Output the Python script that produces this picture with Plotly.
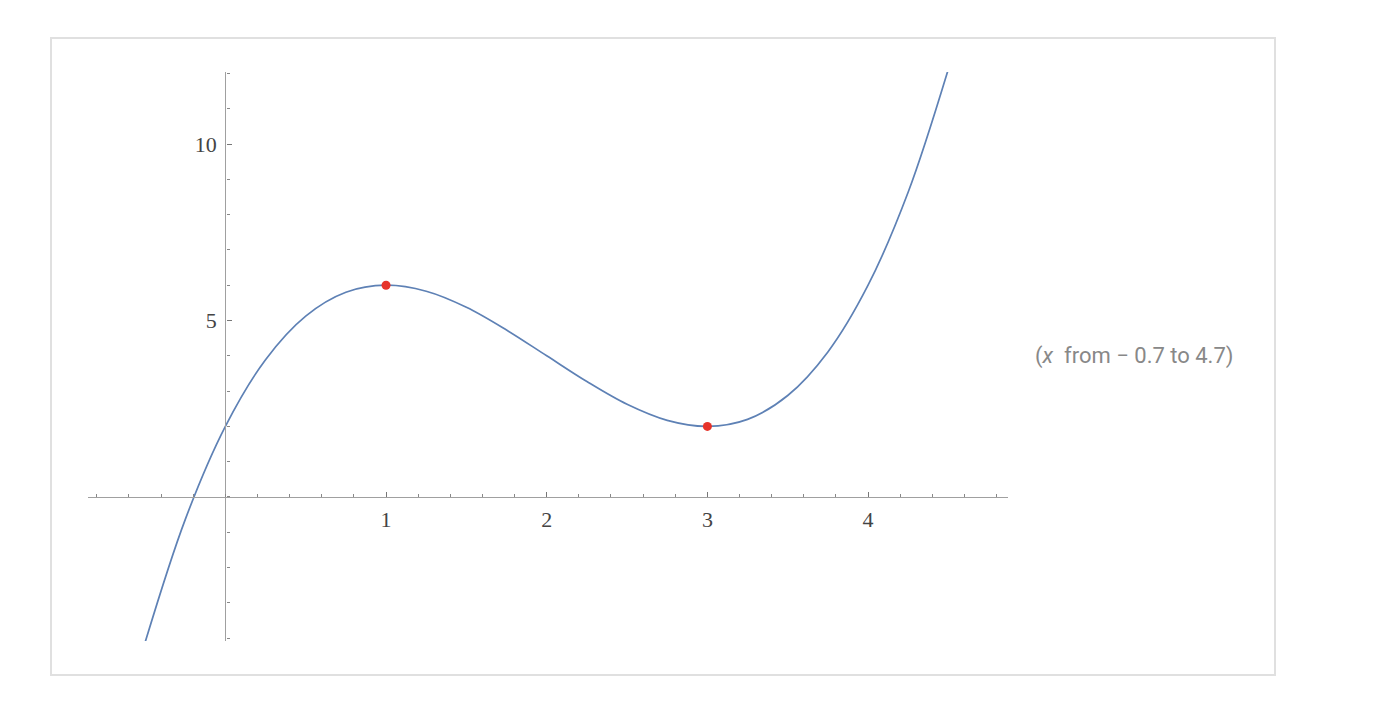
import plotly.graph_objects as go

# values
curve_x = [-0.5, -0.25, 0, 0.25, 0.5, 0.75, 1, 1.25, 1.5, 1.75, 2, 2.25, 2.5, 2.75,
           3, 3.25, 3.5, 3.75, 4, 4.25, 4.5]
curve_y = [-4.125, -0.64, 2, 3.89, 5.125, 5.80, 6, 5.83, 5.375, 4.73, 4, 3.27, 2.625, 2.17,
           2, 2.2, 2.875, 4.11, 6, 8.64, 12.125]
point_x = [1, 3]
point_y = [6, 2]
x_tick_vals = [1, 2, 3, 4]
x_tick_text = ["1", "2", "3", "4"]
y_tick_vals = [5, 10]
y_tick_text = ["5", "10"]
note = "(<i>x</i>  from \u2212 0.7 to 4.7)"

XMIN, XMAX = -0.855, 4.871
YMIN, YMAX = -4.08, 12.04

# page body has an 8px margin; plot area target: x 88..1008, y 72..641
L, T = 80, 64
W_PLOT, H_PLOT = 920, 569

fig = go.Figure()
fig.add_trace(go.Scatter(x=curve_x, y=curve_y, mode="lines",
                         line=dict(color="#5e81b5", width=1.7, shape="spline", smoothing=1.0),
                         hoverinfo="skip", showlegend=False))
fig.add_trace(go.Scatter(x=point_x, y=point_y, mode="markers",
                         marker=dict(color="#e6332a", size=9),
                         hoverinfo="skip", showlegend=False))

axis_font = dict(family="Liberation Serif, Times New Roman, serif", size=22, color="#444444")

fig.update_layout(
    width=1396, height=718,
    margin=dict(l=L, r=1396 - L - W_PLOT, t=T, b=718 - T - H_PLOT),
    paper_bgcolor="white", plot_bgcolor="white",
    xaxis=dict(range=[XMIN, XMAX], showgrid=False, zeroline=False,
               anchor="free", position=(0 - YMIN) / (YMAX - YMIN), side="bottom",
               showline=True, linecolor="#a0a0a0", linewidth=1.3,
               tickmode="array", tickvals=x_tick_vals, ticktext=x_tick_text,
               ticks="inside", ticklen=5, tickwidth=1.2, tickcolor="#777777",
               ticklabelstandoff=2,
               tickfont=axis_font,
               minor=dict(ticks="inside", dtick=0.2, tick0=0, ticklen=3, tickwidth=1,
                          tickcolor="#888888", showgrid=False)),
    yaxis=dict(range=[YMIN, YMAX], showgrid=False, zeroline=False,
               anchor="free", position=(0 - XMIN) / (XMAX - XMIN), side="left",
               showline=True, linecolor="#a0a0a0", linewidth=1.3,
               tickmode="array", tickvals=y_tick_vals, ticktext=y_tick_text,
               ticks="inside", ticklen=5, tickwidth=1.2, tickcolor="#777777",
               ticklabelstandoff=4,
               tickfont=axis_font,
               minor=dict(ticks="inside", dtick=1, tick0=0, ticklen=3, tickwidth=1,
                          tickcolor="#888888", showgrid=False)),
)

# outer frame
fig.add_shape(type="rect", xref="paper", yref="paper",
              x0=(51 - 88) / W_PLOT, x1=(1275 - 88) / W_PLOT,
              y0=(641 - 675) / H_PLOT, y1=(641 - 38) / H_PLOT,
              line=dict(color="#e0e0e0", width=2), layer="below")

fig.add_annotation(text=note, xref="paper", yref="paper",
                   x=(1033 - 88) / W_PLOT, y=(641 - 356) / H_PLOT,
                   xanchor="left", yanchor="middle", showarrow=False,
                   font=dict(family="Roboto, sans-serif", size=22, color="#888888"))

fig.write_html("out.html")
